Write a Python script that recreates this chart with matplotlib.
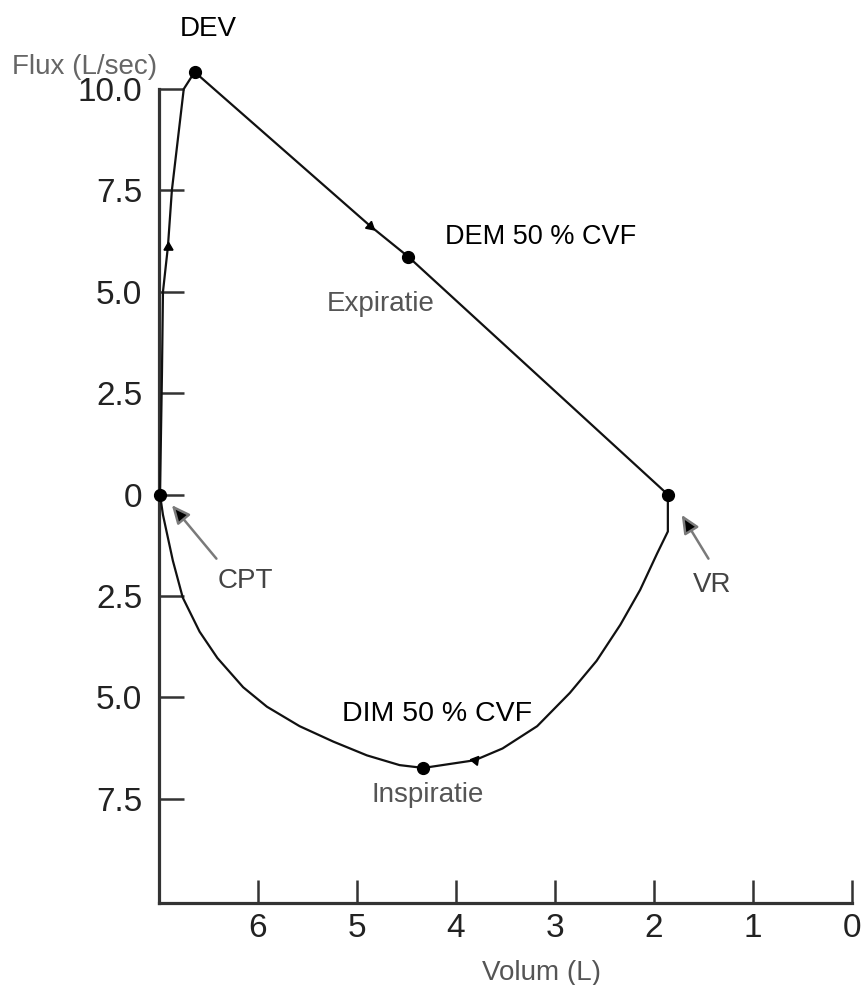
import matplotlib
matplotlib.use("Agg")
import matplotlib.pyplot as plt
from matplotlib.ticker import FixedLocator, FixedFormatter

plt.rcParams['font.family'] = ['Liberation Sans', 'DejaVu Sans']

# Expiratory limb: CPT -> DEV (peak) -> VR
exp_vol = [6.99, 6.98, 6.97, 6.96, 6.91, 6.87, 6.75, 6.64, 4.87, 4.48, 1.86]
exp_flow = [0.0, 1.5, 3.0, 5.0, 6.11, 7.5, 10.0, 10.42, 6.63, 5.86, 0.0]

# Inspiratory limb: VR -> DIM -> CPT
insp_vol = [1.86, 1.86, 1.97, 2.14, 2.34, 2.58, 2.85, 3.18, 3.53, 3.81, 4.33,
            4.57, 4.90, 5.24, 5.58, 5.91, 6.15, 6.41, 6.59, 6.76, 6.86, 6.96, 6.99]
insp_flow = [0.0, -0.91, -1.46, -2.35, -3.21, -4.10, -4.89, -5.71, -6.26, -6.55, -6.74,
             -6.67, -6.43, -6.09, -5.71, -5.23, -4.75, -4.03, -3.38, -2.54, -1.63, -0.50, 0.0]

# Key points (large dots)
key_vol = [6.99, 6.64, 4.48, 1.86, 4.33]
key_flow = [0.0, 10.42, 5.86, 0.0, -6.74]

# Small direction marks
dir_vol = [6.91, 4.87, 3.81]
dir_flow = [6.11, 6.63, -6.55]
dir_angle = [0, -131, 81]

x_ticks = [6, 5, 4, 3, 2, 1, 0]
x_labels = ['6', '5', '4', '3', '2', '1', '0']
y_ticks = [10.0, 7.5, 5.0, 2.5, 0.0, -2.5, -5.0, -7.5]
y_labels = ['10.0', '7.5', '5.0', '2.5', '0', '2.5', '5.0', '7.5']

W, H = 861, 985
fig = plt.figure(figsize=(W / 100, H / 100), dpi=100)
ax = fig.add_axes([159 / W, 1 - 903 / H, (852 - 159) / W, (903 - 89) / H])

ax.set_xlim(7.0, 0.0)
ax.set_ylim(-10.07, 10.0)

line_c = '#111111'
ax.plot(exp_vol, exp_flow, color=line_c, lw=1.6, clip_on=False, zorder=3,
        solid_joinstyle='round')
ax.plot(insp_vol, insp_flow, color=line_c, lw=1.6, clip_on=False, zorder=3,
        solid_joinstyle='round')
ax.plot(key_vol, key_flow, 'o', color='black', ms=8.5, clip_on=False, zorder=4)
for xv, yv, ang in zip(dir_vol, dir_flow, dir_angle):
    ax.plot([xv], [yv], marker=(3, 0, ang), color='black', ms=7.5, clip_on=False, zorder=4)

for s in ['top', 'right']:
    ax.spines[s].set_visible(False)
for s in ['left', 'bottom']:
    ax.spines[s].set_color('#333333')
    ax.spines[s].set_linewidth(2.3)

ax.xaxis.set_major_locator(FixedLocator(x_ticks))
ax.xaxis.set_major_formatter(FixedFormatter(x_labels))
ax.yaxis.set_major_locator(FixedLocator(y_ticks))
ax.yaxis.set_major_formatter(FixedFormatter(y_labels))
ax.tick_params(axis='x', direction='in', length=16.5, width=1.8, color='#333333',
               pad=7, labelsize=24, labelcolor='#222222')
ax.tick_params(axis='y', direction='in', length=18, width=1.8, color='#333333',
               pad=12, labelsize=24, labelcolor='#222222')
for lab in ax.get_xticklabels() + ax.get_yticklabels():
    lab.set_clip_on(False)

fig.text(85 / W, 1 - 67 / H, 'Flux (L/sec)', ha='center', va='center', fontsize=20, color='#666666')
fig.text(542 / W, 1 - 973 / H, 'Volum (L)', ha='center', va='center', fontsize=20, color='#555555')

ax.text(6.50, 11.48, 'DEV', ha='center', va='center', fontsize=20, color='black', clip_on=False)
ax.text(3.15, 6.36, 'DEM 50 % CVF', ha='center', va='center', fontsize=19.5, color='black')
ax.text(4.76, 4.70, 'Expiratie', ha='center', va='center', fontsize=20, color='#555555')
ax.text(4.19, -5.42, 'DIM 50 % CVF', ha='center', va='center', fontsize=20.5, color='black')
ax.text(4.29, -7.41, 'Inspiratie', ha='center', va='center', fontsize=20, color='#555555')
ax.text(6.13, -2.13, 'CPT', ha='center', va='center', fontsize=20, color='#444444')
ax.text(1.41, -2.23, 'VR', ha='center', va='center', fontsize=20, color='#444444')

arrow_props = dict(arrowstyle='-|>,head_length=1.1,head_width=0.5', ec='#7a7a7a', fc='black',
                   lw=1.8, shrinkA=0, shrinkB=0)
ax.annotate('', xy=(6.87, -0.26), xytext=(6.42, -1.58), arrowprops=arrow_props)
ax.annotate('', xy=(1.72, -0.50), xytext=(1.45, -1.58), arrowprops=arrow_props)

fig.savefig('out.png', dpi=100)
